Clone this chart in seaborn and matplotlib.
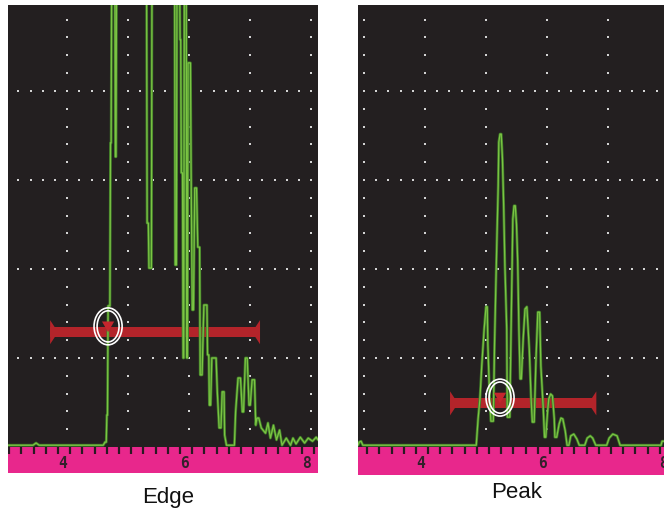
import numpy as np
import pandas as pd
import seaborn as sns
import matplotlib.pyplot as plt
from matplotlib.patches import Rectangle, Polygon, Ellipse


# A-scan traces: sound path (ruler units) and amplitude (% full screen height)
edge_x = [3.11, 3.52, 3.57, 3.62, 4.67, 4.70, 4.72, 4.73, 4.74, 4.75, 4.78, 4.79, 4.80, 4.81,
          4.86, 4.87, 4.88, 4.89, 5.38, 5.39, 5.41, 5.42, 5.46, 5.47, 5.84, 5.85, 5.87, 5.88,
          5.92, 5.93, 5.94, 5.95, 5.97, 5.98, 5.99, 6.00, 6.03, 6.04, 6.05, 6.06, 6.10, 6.11,
          6.13, 6.15, 6.17, 6.20, 6.22, 6.25, 6.26, 6.29, 6.32, 6.37, 6.38, 6.40, 6.41, 6.43,
          6.45, 6.52, 6.54, 6.57, 6.60, 6.62, 6.65, 6.66, 6.69, 6.82, 6.84, 6.88, 6.92, 6.95,
          6.97, 7.00, 7.03, 7.06, 7.08, 7.11, 7.15, 7.17, 7.19, 7.22, 7.26, 7.33, 7.37, 7.41,
          7.46, 7.51, 7.56, 7.60, 7.67, 7.74, 7.78, 7.83, 7.90, 7.97, 8.03, 8.10, 8.16, 8.19]
edge_amp = [0.4, 0.4, 0.9, 0.4, 0.4, 1.1, 1.1, 7.2, 7.2, 31.7, 31.7, 68.3, 68.3, 110,
            110, 65.2, 65.2, 110, 110, 50.3, 50.3, 40.2, 40.2, 110, 110, 40.9, 40.9, 110,
            110, 91.5, 91.5, 61.6, 61.6, 20.0, 20.0, 110, 110, 20.0, 20.0, 86.3, 86.3, 62.9,
            30.8, 30.8, 58.2, 58.2, 44.9, 44.9, 16.2, 16.2, 31.9, 31.9, 20.7, 20.7, 9.4, 9.4,
            20.0, 20.0, 12.4, 4.3, 4.3, 12.4, 12.4, 2.7, 0.4, 0.4, 7.9, 15.5, 15.5, 7.9,
            7.9, 20.0, 20.0, 9.4, 9.4, 15.1, 15.1, 4.9, 6.5, 6.5, 4.3, 3.1, 5.4, 2.0,
            4.9, 1.6, 3.8, 0.4, 2.0, 0.4, 2.0, 0.7, 2.2, 0.9, 2.0, 1.3, 2.2, 1.6]

peak_x = [2.98, 3.00, 3.03, 3.06, 4.92, 4.95, 4.98, 5.01, 5.05, 5.08, 5.10, 5.11, 5.14, 5.16,
          5.20, 5.22, 5.24, 5.26, 5.28, 5.29, 5.31, 5.33, 5.35, 5.37, 5.39, 5.42, 5.43, 5.47,
          5.49, 5.51, 5.52, 5.54, 5.56, 5.58, 5.60, 5.62, 5.64, 5.66, 5.69, 5.72, 5.75, 5.79,
          5.82, 5.84, 5.87, 5.90, 5.93, 5.96, 5.98, 6.02, 6.04, 6.06, 6.09, 6.11, 6.14, 6.17,
          6.20, 6.21, 6.24, 6.28, 6.31, 6.34, 6.38, 6.41, 6.44, 6.47, 6.52, 6.57, 6.61, 6.70,
          6.74, 6.79, 6.83, 6.88, 7.06, 7.10, 7.16, 7.23, 7.28, 7.95, 7.97, 8.00]
peak_amp = [0.4, 1.1, 1.3, 0.4, 0.4, 6.3, 10.8, 18.2, 26.5, 31.5, 31.5, 23.1, 11.2, 5.8,
            5.8, 23.1, 35.5, 47.4, 58.6, 68.5, 70.3, 70.3, 64.7, 54.2, 40.7, 26.5, 6.7, 6.7,
            25.4, 42.2, 51.2, 54.2, 54.2, 50.1, 41.6, 26.5, 15.3, 15.3, 24.3, 31.0, 31.5, 22.0,
            10.8, 5.6, 5.6, 19.8, 30.3, 30.3, 18.2, 8.5, 2.2, 2.2, 7.9, 10.8, 11.9, 11.5,
            6.3, 2.2, 2.2, 5.2, 6.5, 6.3, 3.6, 0.4, 0.4, 2.5, 2.9, 1.8, 0.4, 0.4,
            2.0, 2.5, 2.0, 0.4, 0.4, 2.0, 2.9, 2.5, 0.4, 0.4, 1.3, 1.3]

# gate: start, end, level (%), detection point
edge_gate = [3.80, 7.24, 25.8, 4.75]
peak_gate = [4.49, 6.89, 9.8, 5.31]

ruler_labels = ['4', '6', '8']
ruler_label_pos = [4, 6, 8]
captions = ['Edge', 'Peak']

BG = '#231f20'
GREEN = '#7cc444'
GREEN_EDGE = '#3e7a27'
RED = '#b3242a'
PINK = '#e8278c'
DOT = '#d4d4d4'
GRID_X0 = 3.08


def draw_panel(ax, wx, wy, gate, xlim, ylim):
    ax.set_facecolor(BG)

    # dotted graticule
    dots = []
    for k in range(6):
        for a in range(4, 100, 4):
            dots.append((GRID_X0 + k, a))
    for a in [20, 40, 60, 80]:
        for j in range(26):
            dots.append((GRID_X0 + 0.2 * j, a))
    dots = pd.DataFrame(dots, columns=['x', 'y'])
    sns.scatterplot(data=dots, x='x', y='y', marker='s', s=2.5, color=DOT,
                    linewidth=0, ax=ax, zorder=1)

    # gate bar with end flares
    start, end, level, det = gate
    ax.add_patch(Rectangle((start, level - 1.1), end - start, 2.2, color=RED, lw=0, zorder=2))
    ax.add_patch(Polygon([(start, level - 2.7), (start, level + 2.7), (start + 0.13, level)],
                         closed=True, color=RED, lw=0, zorder=2))
    ax.add_patch(Polygon([(end, level - 2.7), (end, level + 2.7), (end - 0.13, level)],
                         closed=True, color=RED, lw=0, zorder=2))

    # waveform
    wave = pd.DataFrame({'x': wx, 'amp': wy})
    sns.lineplot(data=wave, x='x', y='amp', sort=False, estimator=None,
                 color=GREEN_EDGE, lw=2.0, ax=ax, zorder=3)
    sns.lineplot(data=wave, x='x', y='amp', sort=False, estimator=None,
                 color=GREEN, lw=0.9, ax=ax, zorder=3)

    # detection marker
    ax.add_patch(Polygon([(det - 0.1, level + 2.4), (det + 0.1, level + 2.4), (det, level)],
                         closed=True, color='#c4262d', lw=0, zorder=4))
    ax.add_patch(Ellipse((det, level + 1.3), 0.46, 8.3, fill=False, ec='white', lw=1.2, zorder=5))
    ax.add_patch(Ellipse((det, level + 1.3), 0.36, 7.0, fill=False, ec='white', lw=1.2, zorder=5))

    # ruler
    ax.axhspan(ylim[0], 0, color=PINK, lw=0, zorder=6)
    ticks = [3.13 + 0.2 * j for j in range(26)]
    ax.vlines(ticks, -1.6, 0, color='#2a1a22', lw=1.6, zorder=7)
    for pos, lab in zip(ruler_label_pos, ruler_labels):
        ax.text(pos, -3.6, lab, ha='center', va='center', fontsize=10.5, fontweight='bold',
                family='DejaVu Sans Mono', color='#33202b', zorder=8)

    ax.set_xlim(*xlim)
    ax.set_ylim(*ylim)
    ax.set(xlabel='', ylabel='', xticks=[], yticks=[])
    for s in ax.spines.values():
        s.set_visible(False)


sns.set_theme(style='dark')
fig = plt.figure(figsize=(6.64, 5.11), dpi=100, facecolor='white')

ax1 = fig.add_axes([8 / 664, 38 / 511, 310 / 664, 468 / 511])
ax2 = fig.add_axes([358 / 664, 36 / 511, 306 / 664, 470 / 511])

draw_panel(ax1, edge_x, edge_amp, edge_gate, (3.11, 8.19), (-5.84, 99.3))
draw_panel(ax2, peak_x, peak_amp, peak_gate, (2.98, 8.00), (-6.29, 99.3))

fig.text(168 / 664, 8 / 511, captions[0], ha='center', va='baseline', fontsize=16,
         family=['Liberation Sans Narrow', 'Liberation Sans'], color='#111111')
fig.text(517 / 664, 13 / 511, captions[1], ha='center', va='baseline', fontsize=16,
         family=['Liberation Sans Narrow', 'Liberation Sans'], color='#111111')

fig.savefig('out.png', dpi=100, facecolor='white')
